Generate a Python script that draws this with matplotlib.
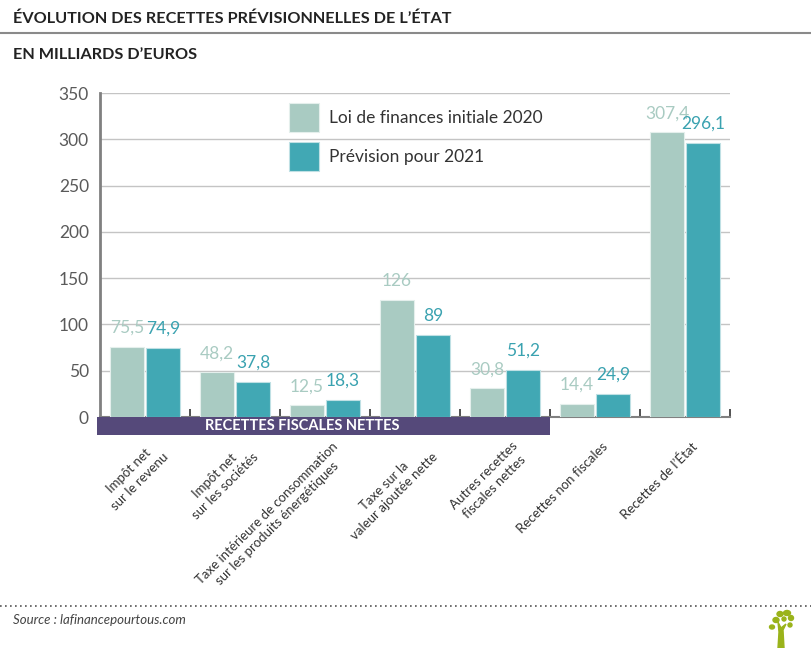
import matplotlib
matplotlib.use("Agg")
import matplotlib.pyplot as plt
from matplotlib.patches import Rectangle, Ellipse, Polygon
from matplotlib.lines import Line2D
import matplotlib.transforms as mtrans

plt.rcParams['font.family'] = ['Lato', 'DejaVu Sans']

categories = ["Impôt net\nsur le revenu", "Impôt net\nsur les sociétés",
              "Taxe intérieure de consommation\nsur les produits énergétiques",
              "Taxe sur la\nvaleur ajoutée nette", "Autres recettes\nfiscales nettes",
              "Recettes non fiscales", "Recettes de l’État"]
lfi_2020 = [75.5, 48.2, 12.5, 126, 30.8, 14.4, 307.4]
prev_2021 = [74.9, 37.8, 18.3, 89, 51.2, 24.9, 296.1]
lfi_labels = ["75,5", "48,2", "12,5", "126", "30,8", "14,4", "307,4"]
prev_labels = ["74,9", "37,8", "18,3", "89", "51,2", "24,9", "296,1"]
series_names = ["Loi de finances initiale 2020", "Prévision pour 2021"]
yticks = [0, 50, 100, 150, 200, 250, 300, 350]
band_label = "RECETTES FISCALES NETTES"
n_fiscal = 5

C_LIGHT = "#a9cbc2"
C_DARK = "#41a8b4"
C_DARK_TXT = "#3aa2b0"
C_PURPLE = "#55497a"

W, H = 812, 648
fig = plt.figure(figsize=(W/100, H/100), dpi=100)

def fx(px): return px / W
def fy(py): return 1 - py / H

ax = fig.add_axes([fx(100), fy(417), fx(730) - fx(100), fy(93) - fy(417)])
ax.set_xlim(-0.5, len(categories) - 0.5)
ax.set_ylim(0, 350)

x = list(range(len(categories)))
bw = 0.37
off = 0.2
b1 = ax.bar([i - off for i in x], lfi_2020, bw, color=C_LIGHT, edgecolor="#e4efec",
            linewidth=0.8, zorder=3, label=series_names[0])
b2 = ax.bar([i + off for i in x], prev_2021, bw, color=C_DARK, edgecolor="#bfe0e4",
            linewidth=0.8, zorder=3, label=series_names[1])

for i in x:
    ax.annotate(lfi_labels[i], (i - off, lfi_2020[i]), xytext=(0, 8), textcoords="offset points",
                ha="center", va="bottom", fontsize=12.5, color=C_LIGHT)
    ax.annotate(prev_labels[i], (i + off, prev_2021[i]), xytext=(0, 8), textcoords="offset points",
                ha="center", va="bottom", fontsize=12.5, color=C_DARK_TXT)

ax.set_yticks(yticks)
ax.set_yticklabels([str(v) for v in yticks], fontsize=12.5, color="#5a5a5a")
ax.tick_params(axis="y", length=0, pad=8)
ax.grid(axis="y", color="#c4c4c4", linewidth=1.0, zorder=0)
ax.set_axisbelow(True)

for s in ["top", "right"]:
    ax.spines[s].set_visible(False)
ax.spines["left"].set_color("#808080")
ax.spines["left"].set_linewidth(2.0)
ax.spines["bottom"].set_color("#808080")
ax.spines["bottom"].set_linewidth(1.5)

ax.set_xticks(x)
ax.set_xticklabels([])
ax.tick_params(axis="x", which="major", length=0)
ax.set_xticks([i + 0.5 for i in x], minor=True)
ax.tick_params(axis="x", which="minor", direction="in", length=6, width=1.2, color="#333333")

# band for fiscal revenues
trans = mtrans.blended_transform_factory(ax.transData, ax.transAxes)
band_h = 18 / 324
ax.add_patch(Rectangle((-0.535, -band_h), n_fiscal - 0.5 + 0.535, band_h, transform=trans,
                       facecolor=C_PURPLE, edgecolor="none", clip_on=False, zorder=4))
ax.text(1.745, -band_h / 2, band_label, transform=trans, ha="center", va="center",
        color="white", fontsize=10.5, fontweight="bold", zorder=5, clip_on=False)

# category labels
for i, lab in enumerate(categories):
    ax.text(i + 0.07, -(440 - 417) / 324, lab, transform=trans, rotation=45,
            rotation_mode="anchor", ha="right", va="top", multialignment="center",
            fontsize=9.5, color="#333333", linespacing=1.3)

# legend
leg = ax.legend(handles=[b1, b2], loc="upper left", bbox_to_anchor=(fx(289), fy(103)),
                bbox_transform=fig.transFigure, frameon=False, fontsize=12.5,
                handlelength=1.75, handleheight=2.2, labelspacing=0.58, handletextpad=0.55,
                borderpad=0, borderaxespad=0)
for t in leg.get_texts():
    t.set_color("#333333")

# titles
fig.text(fx(13), fy(19), "ÉVOLUTION DES RECETTES PRÉVISIONNELLES DE L’ÉTAT", ha="left",
         va="center", fontsize=11.7, fontweight="bold", color="#222222")
fig.add_artist(Line2D([0, 1], [fy(33), fy(33)], color="#8a8a8a", linewidth=1.5))
fig.text(fx(13), fy(55), "EN MILLIARDS D’EUROS", ha="left", va="center",
         fontsize=11.7, fontweight="bold", color="#222222")

# footer
fig.add_artist(Line2D([0, 1], [fy(606), fy(606)], color="#555555", linewidth=1.2,
                      linestyle=(0, (1, 2))))
fig.text(fx(13), fy(620), "Source : lafinancepourtous.com", ha="left", va="center",
         fontsize=9.5, style="italic", color="#444444")

# small tree logo
green = "#9ab31a"
logo = [Polygon([[fx(778), fy(648)], [fx(784), fy(648)], [fx(783), fy(630)], [fx(786), fy(624)],
                 [fx(781), fy(628)], [fx(778), fy(622)], [fx(779), fy(632)]],
                closed=True, transform=fig.transFigure, color=green)]
for (cx, cy, w, h) in [(776, 620, 6, 5), (780, 614, 6, 5), (787, 613, 7, 5), (791, 618, 5, 5),
                       (772, 627, 5, 4), (790, 625, 4, 4), (784, 619, 4, 4)]:
    logo.append(Ellipse((fx(cx), fy(cy)), w / W, h / H, transform=fig.transFigure, color=green))
for p in logo:
    fig.add_artist(p)

fig.savefig("out.png", dpi=100)
